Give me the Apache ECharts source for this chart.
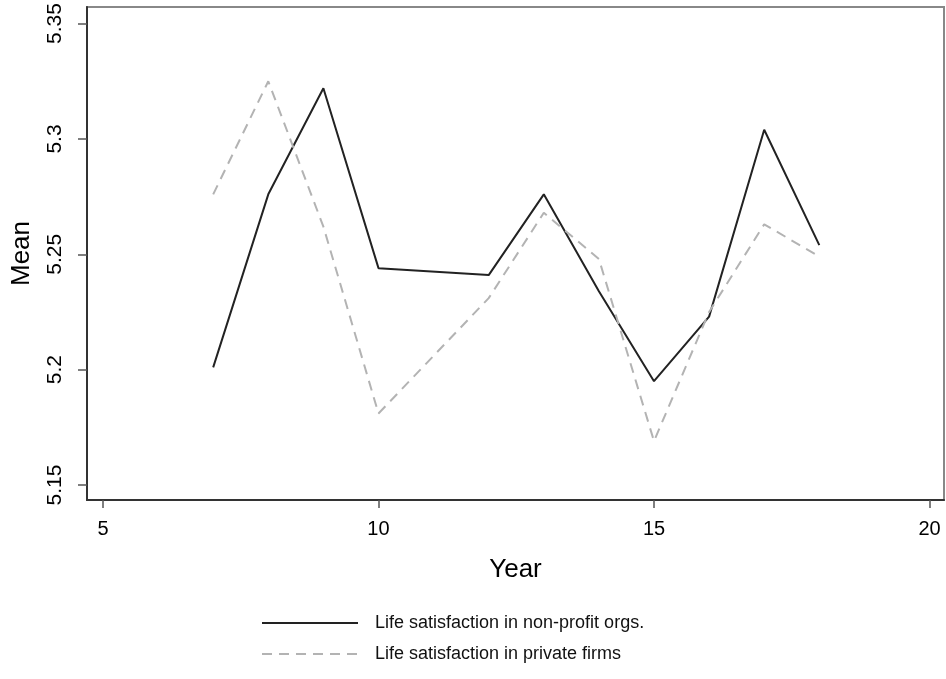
<!DOCTYPE html>
<html>
<head>
<meta charset="utf-8">
<script src="https://cdn.jsdelivr.net/npm/echarts@6/dist/echarts.min.js"></script>
<style>
html,body{margin:0;padding:0;background:#fff;}
#chart{width:946px;height:679px;}
</style>
</head>
<body>
<div id="chart"></div>
<script>
var years = [7, 8, 9, 10, 12, 13, 14, 15, 16, 17, 18];
var nonProfit = [5.201, 5.276, 5.322, 5.244, 5.241, 5.276, 5.234, 5.195, 5.223, 5.304, 5.254];
var privateFirms = [5.276, 5.325, 5.262, 5.181, 5.231, 5.268, 5.248, 5.169, 5.225, 5.263, 5.249];
var xTicks = [5, 10, 15, 20];
var yTicks = [5.15, 5.2, 5.25, 5.3, 5.35];
var seriesNames = ['Life satisfaction in non-profit orgs.', 'Life satisfaction in private firms'];

function pairs(xs, ys) { return xs.map(function (x, i) { return [x, ys[i]]; }); }

var font = 'Liberation Sans, Arial, Helvetica, sans-serif';
var chart = echarts.init(document.getElementById('chart'), null, {renderer: 'canvas'});
chart.setOption({
  animation: false,
  backgroundColor: '#fff',
  grid: {
    left: 87, right: 2, top: 7, bottom: 179,
    show: true, borderColor: '#888', borderWidth: 2, containLabel: false
  },
  xAxis: {
    type: 'value', min: 4.71, max: 20.263,
    name: 'Year', nameLocation: 'middle', nameGap: 57,
    nameTextStyle: {fontFamily: font, fontSize: 26, color: '#000'},
    axisLine: {show: true, lineStyle: {color: '#333', width: 2}},
    axisTick: {show: true, length: 8, inside: false, customValues: xTicks, lineStyle: {color: '#555', width: 1.5}},
    axisLabel: {customValues: xTicks, margin: 19, fontFamily: font, fontSize: 20, color: '#000'},
    splitLine: {show: false}
  },
  yAxis: {
    type: 'value', min: 5.1435, max: 5.3572,
    name: 'Mean', nameLocation: 'middle', nameGap: 52, nameRotate: 90,
    nameTextStyle: {fontFamily: font, fontSize: 26, color: '#000'},
    axisLine: {show: true, lineStyle: {color: '#333', width: 2}},
    axisTick: {show: true, length: 9, inside: false, customValues: yTicks, lineStyle: {color: '#555', width: 1.5}},
    axisLabel: {customValues: yTicks, rotate: 90, margin: 21, fontFamily: font, fontSize: 21, color: '#000',
      formatter: function (v) { return String(Math.round(v * 100) / 100); }},
    splitLine: {show: false}
  },
  legend: {
    orient: 'vertical', left: 256, top: 609, itemWidth: 96, itemHeight: 14, itemGap: 13,
    itemStyle: {opacity: 0},
    textStyle: {fontFamily: font, fontSize: 18, color: '#111', padding: [0, 0, 0, 12]},
    data: seriesNames
  },
  series: [
    {
      name: seriesNames[0], type: 'line', data: pairs(years, nonProfit),
      symbol: 'none', lineStyle: {color: '#222', width: 2}, itemStyle: {color: '#222'}
    },
    {
      name: seriesNames[1], type: 'line', data: pairs(years, privateFirms),
      symbol: 'none', lineStyle: {color: '#b3b3b3', width: 2, type: [10, 7]}, itemStyle: {color: '#b3b3b3'}
    }
  ]
});
</script>
</body>
</html>
